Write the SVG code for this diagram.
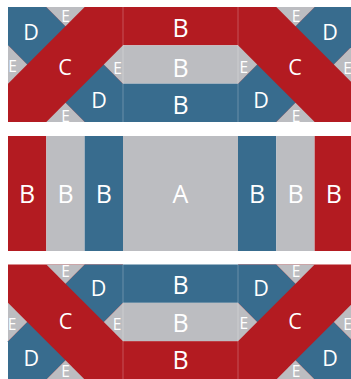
<svg xmlns="http://www.w3.org/2000/svg" xmlns:xlink="http://www.w3.org/1999/xlink" width="351" height="379" viewBox="0 0 351 379">
<style>
.r{fill:#B31B21}.b{fill:#386C8E}.g{fill:#BCBDC1}
text{fill:#fff;font-family:"Open Sans","Noto Sans","Liberation Sans",sans-serif;text-anchor:middle}
.big{font-size:25px}.mid{font-size:21.5px}.sm{font-size:15.5px}
.seam{stroke:#fff;stroke-opacity:.35;stroke-width:.7;fill:none}
</style>
<defs>
<g id="es">
<polygon class="g" points="38.33,0 76.67,0 57.5,19.17"/>
<polygon class="g" points="0,38.33 0,76.67 19.17,57.5"/>
<polygon class="g" points="115,38.33 115,76.67 95.83,57.5"/>
<polygon class="g" points="38.33,115 76.67,115 57.5,95.83"/>
</g>
<g id="sqA">
<rect class="r" x="0" y="0" width="115" height="115"/>
<polygon class="b" points="0,0 38.33,0 57.5,19.17 19.17,57.5 0,38.33"/>
<polygon class="b" points="115,115 76.67,115 57.5,95.83 95.83,57.5 115,76.67"/>
<use xlink:href="#es"/>
</g>
<g id="sqB">
<rect class="r" x="0" y="0" width="115" height="115"/>
<polygon class="b" points="115,0 76.67,0 57.5,19.17 95.83,57.5 115,38.33"/>
<polygon class="b" points="0,115 38.33,115 57.5,95.83 19.17,57.5 0,76.67"/>
<use xlink:href="#es"/>
</g>
</defs>

<g id="top-left">
<use xlink:href="#sqA" x="8" y="7"/>
<text class="mid" x="31" y="39.7">D</text>
<text class="mid" x="65" y="74.7">C</text>
<text class="mid" x="99" y="107.7">D</text>
<text class="sm" x="65.5" y="22">E</text>
<text class="sm" x="12.5" y="72">E</text>
<text class="sm" x="117.5" y="73.5">E</text>
<text class="sm" x="65.5" y="121.5">E</text>
</g>

<g id="top-middle">
<rect class="r" x="123" y="7" width="115" height="38.33"/>
<rect class="g" x="123" y="45.33" width="115" height="38.34"/>
<rect class="b" x="123" y="83.67" width="115" height="38.33"/>
<text class="big" x="180.5" y="36.5">B</text>
<text class="big" x="180.5" y="76.5">B</text>
<text class="big" x="180.5" y="114">B</text>
</g>

<g id="top-right">
<use xlink:href="#sqB" x="238" y="7"/>
<text class="mid" x="330" y="39.7">D</text>
<text class="mid" x="295" y="75.2">C</text>
<text class="mid" x="261" y="107.7">D</text>
<text class="sm" x="296" y="22.2">E</text>
<text class="sm" x="243.7" y="73">E</text>
<text class="sm" x="347.5" y="73.5">E</text>
<text class="sm" x="296" y="121.5">E</text>
</g>

<g id="center-row">
<rect class="r" x="8" y="136" width="38.33" height="115"/>
<rect class="g" x="46.33" y="136" width="38.34" height="115"/>
<rect class="b" x="84.67" y="136" width="38.33" height="115"/>
<rect class="g" x="123" y="136" width="115" height="115"/>
<rect class="b" x="238" y="136" width="38.33" height="115"/>
<rect class="g" x="276.33" y="136" width="38.34" height="115"/>
<rect class="r" x="314.67" y="136" width="38.33" height="115"/>
<text class="big" x="27.2" y="202.5">B</text>
<text class="big" x="65.5" y="202.5">B</text>
<text class="big" x="103.8" y="202.5">B</text>
<text class="big" x="180.5" y="202.5">A</text>
<text class="big" x="257.2" y="202.5">B</text>
<text class="big" x="295.5" y="202.5">B</text>
<text class="big" x="333.8" y="202.5">B</text>
</g>

<g id="bottom-left">
<use xlink:href="#sqB" x="8" y="264.5"/>
<text class="mid" x="98.5" y="296">D</text>
<text class="mid" x="65.5" y="329.4">C</text>
<text class="mid" x="31.3" y="366">D</text>
<text class="sm" x="65.5" y="277.2">E</text>
<text class="sm" x="12" y="329.5">E</text>
<text class="sm" x="117" y="329.5">E</text>
<text class="sm" x="65.5" y="377.3">E</text>
</g>

<g id="bottom-middle">
<rect class="b" x="123" y="264.5" width="115" height="38.33"/>
<rect class="g" x="123" y="302.83" width="115" height="38.34"/>
<rect class="r" x="123" y="341.17" width="115" height="38.33"/>
<text class="big" x="180.5" y="293.5">B</text>
<text class="big" x="180.5" y="331.5">B</text>
<text class="big" x="180.5" y="369">B</text>
</g>

<g id="bottom-right">
<use xlink:href="#sqA" x="238" y="264.5"/>
<text class="mid" x="261" y="296">D</text>
<text class="mid" x="295" y="329.4">C</text>
<text class="mid" x="330" y="366">D</text>
<text class="sm" x="296" y="277.2">E</text>
<text class="sm" x="243.7" y="328.5">E</text>
<text class="sm" x="347.5" y="329.5">E</text>
<text class="sm" x="296" y="377.3">E</text>
</g>

<g id="seams">
<line class="seam" x1="123" y1="7" x2="123" y2="122"/>
<line class="seam" x1="238" y1="7" x2="238" y2="122"/>
<line class="seam" x1="123" y1="264.5" x2="123" y2="379"/>
<line class="seam" x1="238" y1="264.5" x2="238" y2="379"/>
</g>
</svg>
